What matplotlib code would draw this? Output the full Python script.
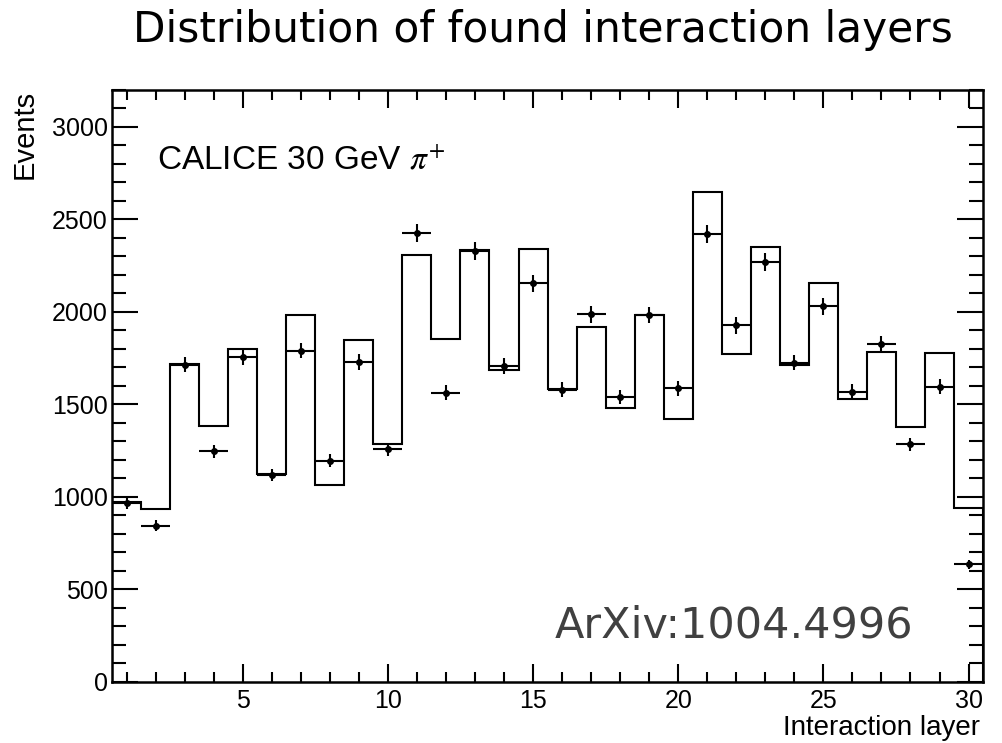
import matplotlib
matplotlib.use("Agg")
import matplotlib.pyplot as plt
from matplotlib.ticker import MultipleLocator
import numpy as np

# interaction layer bins (1..30), bin width 1
layers = np.arange(1, 31)
bin_edges = np.arange(0.5, 31.0, 1.0)

# simulation histogram (outline)
mc_events = [974, 933, 1719, 1385, 1799, 1124, 1984, 1064, 1851, 1284,
             2309, 1853, 2336, 1687, 2340, 1582, 1921, 1479, 1984, 1423,
             2646, 1773, 2351, 1714, 2154, 1528, 1786, 1376, 1780, 938]

# data points
data_events = [965, 844, 1714, 1248, 1755, 1118, 1791, 1196, 1730, 1259,
               2426, 1564, 2331, 1708, 2156, 1580, 1988, 1539, 1984, 1588,
               2423, 1927, 2270, 1726, 2030, 1569, 1827, 1284, 1596, 637]
data_err = [31, 29, 41, 35, 42, 33, 42, 35, 42, 35,
            49, 40, 48, 41, 46, 40, 45, 39, 45, 40,
            49, 44, 48, 42, 45, 40, 43, 36, 40, 25]

plt.rcParams['mathtext.fontset'] = 'stix'
sans = 'Liberation Sans'

fig = plt.figure(figsize=(10.02, 7.43), dpi=100)
ax = fig.add_axes([0.1118, 0.0821, 0.8693, 0.7968])

ax.stairs(mc_events, bin_edges, baseline=0, color='black', lw=1.5)
ax.errorbar(layers, data_events, xerr=0.5, yerr=data_err, fmt='o',
            color='black', ms=4, elinewidth=1.5, capsize=0, zorder=5)

ax.set_xlim(0.5, 30.5)
ax.set_ylim(0, 3200)

ax.xaxis.set_major_locator(MultipleLocator(5))
ax.xaxis.set_minor_locator(MultipleLocator(1))
ax.yaxis.set_major_locator(MultipleLocator(500))
ax.yaxis.set_minor_locator(MultipleLocator(100))

ax.tick_params(which='both', direction='in', top=True, right=True, width=1.5)
ax.tick_params(axis='x', which='major', length=13, pad=5)
ax.tick_params(axis='x', which='minor', length=7)
ax.tick_params(axis='y', which='major', length=19, pad=3)
ax.tick_params(axis='y', which='minor', length=10)
for lab in ax.get_xticklabels() + ax.get_yticklabels():
    lab.set_family(sans)
    lab.set_fontsize(18)

for sp in ax.spines.values():
    sp.set_linewidth(1.8)

fig.text(0.542, 1 - 42 / 743, 'Distribution of found interaction layers',
         family='DejaVu Sans', fontsize=30.4, ha='center', va='baseline')
fig.text(25 / 1002, 1 - 90 / 743, 'Events', family=sans, fontsize=21,
         rotation=90, ha='center', va='top')
fig.text(980 / 1002, 1 - 735 / 743, 'Interaction layer', family=sans,
         fontsize=20, ha='right', va='baseline')

ax.text(157 / 1002, 1 - 169 / 743, r'CALICE 30 GeV $\pi^{+}$', family=sans,
        fontsize=24, transform=fig.transFigure, va='baseline')
ax.text(555 / 1002, 1 - 637 / 743, 'ArXiv:1004.4996', family='DejaVu Sans',
        fontsize=31, color='#404040', transform=fig.transFigure, va='baseline')

fig.savefig('out.png', dpi=100)
